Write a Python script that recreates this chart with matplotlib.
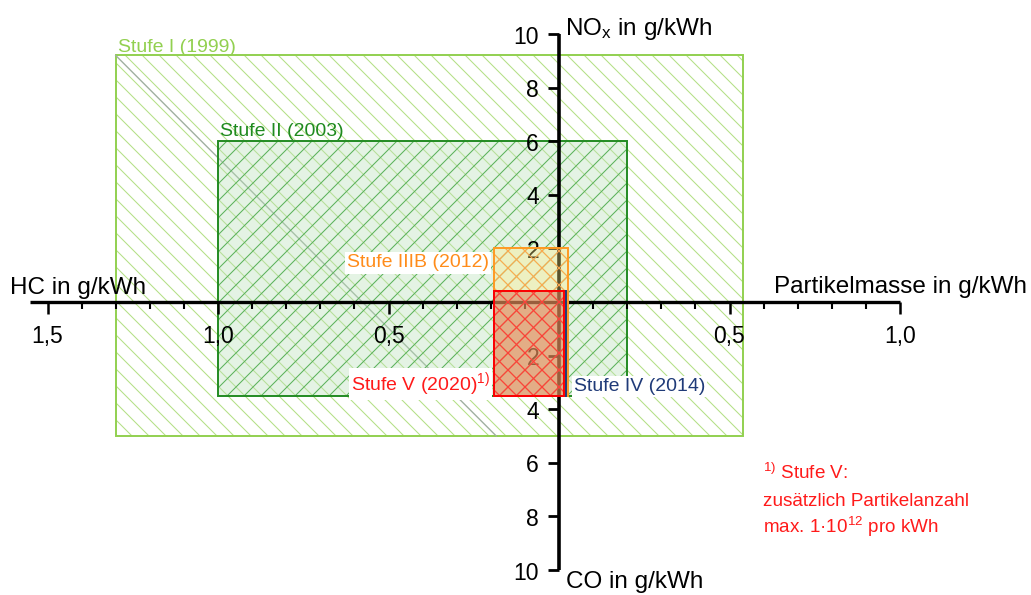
# Abgasstufen fuer Dieselmotoren (mobile Maschinen) - Grenzwerte im Vierachsendiagramm
import matplotlib
matplotlib.use("Agg")
import matplotlib.pyplot as plt
import numpy as np
from matplotlib.collections import LineCollection
from matplotlib.patches import Rectangle

plt.rcParams["font.family"] = ["Liberation Sans", "DejaVu Sans"]
plt.rcParams["mathtext.fontset"] = "custom"
plt.rcParams["mathtext.rm"] = "Liberation Sans"
plt.rcParams["mathtext.it"] = "Liberation Sans"
plt.rcParams["mathtext.bf"] = "Liberation Sans:bold"

# limits in g/kWh
stages = ["Stufe I (1999)", "Stufe II (2003)", "Stufe IIIB (2012)",
          "Stufe IV (2014)", "Stufe V (2020)"]
hc = [1.3, 1.0, 0.19, 0.19, 0.19]
co = [5.0, 3.5, 3.5, 3.5, 3.5]
nox = [9.2, 6.0, 2.0, 0.4, 0.4]
pm = [0.54, 0.2, 0.025, 0.02, 0.015]

# axis scales
pm_labels = [0.5, 1.0]
hc_labels = [0.5, 1.0, 1.5]
gas_ticks = [2, 4, 6, 8, 10]

# pixels per g/kWh: 341 horizontally, 26.8 vertically; origin at (559, 302)
SX, SY = 341.0, 26.8
px_x = 1 / SX
px_y = 1 / SY

fig = plt.figure(figsize=(10.31, 5.95), dpi=100)
ax = fig.add_axes([0, 0, 1, 1])
ax.axis("off")
ax.set_xlim(-559 / SX, (1031 - 559) / SX)
ax.set_ylim(-(595 - 302) / SY, 302 / SY)


def add_hatch(rect, direction, color, z, step=17, lw=0.75):
    # 45 degree hatch lines (in screen space), clipped to the rectangle
    x0, y0 = rect.get_x() * SX, rect.get_y() * SY
    x1, y1 = x0 + rect.get_width() * SX, y0 + rect.get_height() * SY
    if direction == "\\":
        cs = np.arange(np.floor((x0 + y0) / step) * step, x1 + y1 + step, step)
        segs = [[((c - y0) / SX, y0 / SY), ((c - y1) / SX, y1 / SY)] for c in cs]
    else:
        cs = np.arange(np.floor((x0 - y1) / step) * step, x1 - y0 + step, step)
        segs = [[((c + y0) / SX, y0 / SY), ((c + y1) / SX, y1 / SY)] for c in cs]
    lc = LineCollection(segs, colors=color, linewidths=lw, zorder=z)
    ax.add_collection(lc)
    # set after add_collection, otherwise the axes patch replaces it
    lc.set_clip_path(rect)


# (face rgba, hatch directions, hatch colour, edge colour, zorder)
styles = {
    "Stufe I (1999)": ((1, 1, 1, 0), "\\", "#b3df86", "#92d050", 1),
    "Stufe II (2003)": ((0.72, 0.88, 0.72, 0.38), "/", "#5cb25c", "#228b22", 2),
    "Stufe IIIB (2012)": ((1.0, 0.93, 0.5, 0.35), "\\/", "#ffa64d", "#ff9922", 4),
    "Stufe IV (2014)": ((1, 1, 1, 0), "", "#1f3a78", "#1f3a78", 4.5),
    "Stufe V (2020)": ((0.86, 0.42, 0.3, 0.5), "\\/", "#ff3b3b", "#ff0000", 5),
}

for name, h, c, n, p in zip(stages, hc, co, nox, pm):
    face, hatch, hcol, ecol, z = styles[name]
    body = Rectangle((-h, -c), h + p, c + n, facecolor=face, lw=0, zorder=z)
    ax.add_patch(body)
    for d in hatch:
        add_hatch(body, d, hcol, z + 0.05)
    ax.add_patch(Rectangle((-h, -c), h + p, c + n, facecolor="none",
                           edgecolor=ecol, lw=1.4, zorder=z + 0.1))

# stray darker hatch line in Stufe I
ax.plot([-hc[0], -hc[0] + (nox[0] + co[0]) * SY / SX], [nox[0], -co[0]],
        color="#a0b0a0", lw=1.0, zorder=1.5)

# axes cross
ax.plot([-1.55, 1.0], [0, 0], color="black", lw=2.4, solid_capstyle="butt", zorder=3)
ax.plot([0, 0], [-10, 10], color="black", lw=2.6, solid_capstyle="butt", zorder=3)

minor = np.round(np.arange(0.1, 1.51, 0.1), 2)
for v in minor:
    big = np.isclose(v % 0.5, 0) or np.isclose(v % 0.5, 0.5)
    length = 12 * px_y if big else 7 * px_y
    ax.plot([-v, -v], [0, -length], color="black", lw=1.8 if big else 1.5,
            solid_capstyle="butt", zorder=3)
    if v <= 1.0 + 1e-9:
        ax.plot([v, v], [0, -length], color="black", lw=1.8 if big else 1.5,
                solid_capstyle="butt", zorder=3)

for t in gas_ticks:
    for sgn in (1, -1):
        ax.plot([-11 * px_x, 0], [sgn * t, sgn * t], color="black", lw=2,
                solid_capstyle="butt", zorder=3)
        ax.text(-20 * px_x, sgn * t - 3 * px_y, str(t), ha="right", va="center",
                fontsize=16.5, zorder=3)

for v in pm_labels:
    ax.text(v, -35 * px_y, f"{v:.1f}".replace(".", ","), ha="center",
            va="center", fontsize=16.5, zorder=3)
for v in hc_labels:
    ax.text(-v, -35 * px_y, f"{v:.1f}".replace(".", ","), ha="center",
            va="center", fontsize=16.5, zorder=3)

# axis titles
ax.text(-549 * px_x, 8 * px_y, "HC in g/kWh", fontsize=17.5, va="baseline")
ax.text(468 * px_x, 9 * px_y, "Partikelmasse in g/kWh", fontsize=17.5,
        ha="right", va="baseline")
ax.text(6 * px_x, 267 * px_y, r"NO$_\mathrm{x}$ in g/kWh", fontsize=17.5,
        va="baseline")
ax.text(7 * px_x, -286 * px_y, "CO in g/kWh", fontsize=17.5, va="baseline")

# stage labels
ax.text(-hc[0] + 2 * px_x, nox[0] + 3 * px_y, stages[0], color="#92d050",
        fontsize=14, va="baseline", zorder=6)
ax.text(-hc[1] + 2 * px_x, nox[1] + 5 * px_y, stages[1], color="#1e8a1e",
        fontsize=14, va="baseline", zorder=6)
ax.text(-hc[2] - 5 * px_x, nox[2] - 19 * px_y, stages[2], color="#ff8c1a",
        fontsize=14, ha="right", va="baseline", zorder=6,
        bbox=dict(facecolor="white", edgecolor="none", pad=1.5))
ax.text(pm[3] + 8 * px_x, -co[3] + 5 * px_y, stages[3], color="#1f3a78",
        fontsize=14, va="baseline", zorder=6,
        bbox=dict(facecolor="white", edgecolor="none", pad=1.5))
ax.text(-hc[4] - 4 * px_x, -co[4] + 6 * px_y, stages[4] + r"$^{1)}$",
        color="#ff1a1a", fontsize=14, ha="right", va="baseline", zorder=6,
        bbox=dict(facecolor="white", edgecolor="none", pad=1.5))

# footnote
note_x = 204 * px_x
ax.text(note_x, -177 * px_y, r"$^{1)}$ Stufe V:", color="#ff1a1a",
        fontsize=13.6, va="baseline")
ax.text(note_x, -204 * px_y, "zusätzlich Partikelanzahl", color="#ff1a1a",
        fontsize=13.6, va="baseline")
ax.text(note_x, -231 * px_y, r"max. 1·10$^{12}$ pro kWh", color="#ff1a1a",
        fontsize=13.6, va="baseline")

fig.savefig("out.png", dpi=100)
